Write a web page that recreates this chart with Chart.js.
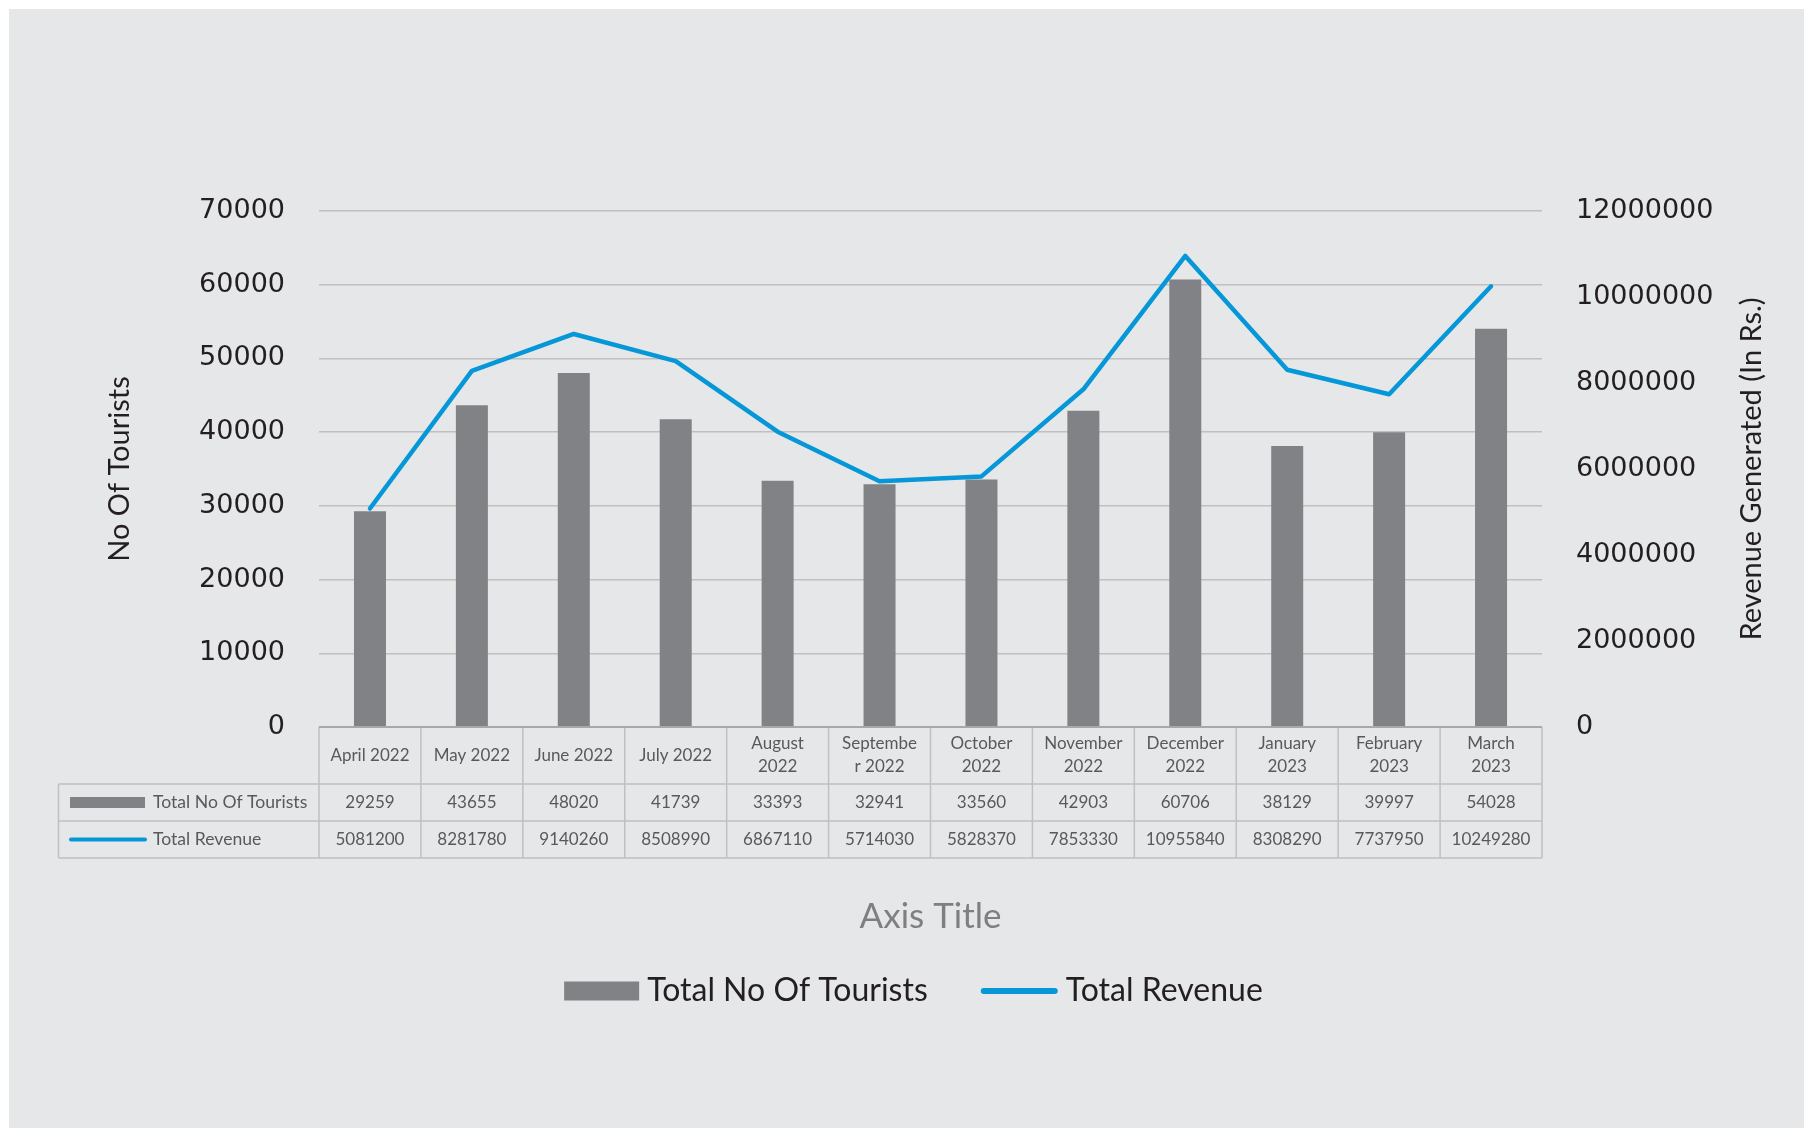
<!DOCTYPE html>
<html>
<head>
<meta charset="utf-8">
<script src="https://cdn.jsdelivr.net/npm/chart.js@4/dist/chart.umd.min.js"></script>
<style>
html,body{margin:0;padding:0;background:#ffffff;}
#wrap{width:1804px;height:1129px;position:relative;}
canvas{display:block;}
</style>
</head>
<body>
<div id="wrap"><canvas id="c" width="1804" height="1129"></canvas></div>
<script>
// ---- data ----
const categories = ["April 2022","May 2022","June 2022","July 2022","August 2022","September 2022","October 2022","November 2022","December 2022","January 2023","February 2023","March 2023"];
const headerLabels = [["April 2022"],["May 2022"],["June 2022"],["July 2022"],["August","2022"],["Septembe","r 2022"],["October","2022"],["November","2022"],["December","2022"],["January","2023"],["February","2023"],["March","2023"]];
const tourists = [29259,43655,48020,41739,33393,32941,33560,42903,60706,38129,39997,54028];
const revenue = [5081200,8281780,9140260,8508990,6867110,5714030,5828370,7853330,10955840,8308290,7737950,10249280];
const seriesNames = ["Total No Of Tourists","Total Revenue"];
const leftTicks = [0,10000,20000,30000,40000,50000,60000,70000];
const rightTicks = [0,2000000,4000000,6000000,8000000,10000000,12000000];
const leftAxisTitle = "No Of Tourists";
const rightAxisTitle = "Revenue Generated (In Rs.)";
const xAxisTitle = "Axis Title";

// ---- style ----
const BAR_COLOR = '#818285';
const LINE_COLOR = '#0597d8';
const TEXT_DARK = '#231f20';
const TABLE_TEXT = '#595959';
const GRID = '#c0c0c0';
const W = 1804, H = 1129;
const PLOT_LEFT = 319, PLOT_RIGHT = 1542, PLOT_TOP = 211, PLOT_BOTTOM = 727;

const decoPlugin = {
  id: 'deco',
  beforeDraw(chart) {
    const ctx = chart.ctx;
    ctx.save();
    ctx.fillStyle = '#ffffff';
    ctx.fillRect(0, 0, W, H);
    ctx.fillStyle = '#e6e7e9';
    ctx.fillRect(9, 9, W - 9, 1119);
    ctx.restore();
  },
  afterDraw(chart) {
    const ctx = chart.ctx;
    const area = chart.chartArea;
    const xs = chart.scales.x;
    const n = categories.length;
    const colW = (area.right - area.left) / n;
    const top = area.bottom;
    const r1 = top + 57, r2 = r1 + 37, r3 = r2 + 37;
    const tLeft = 58.5;
    ctx.save();
    // table grid
    ctx.strokeStyle = GRID;
    ctx.lineWidth = 1.5;
    ctx.beginPath();
    [r1, r2, r3].forEach(y => { ctx.moveTo(tLeft, y); ctx.lineTo(area.right, y); });
    ctx.moveTo(tLeft, r1); ctx.lineTo(tLeft, r3);
    for (let i = 0; i <= n; i++) {
      const x = area.left + i * colW;
      ctx.moveTo(x, top); ctx.lineTo(x, r3);
    }
    ctx.stroke();
    // axis line
    ctx.strokeStyle = '#a8a8a8';
    ctx.lineWidth = 2;
    ctx.beginPath();
    ctx.moveTo(area.left, top); ctx.lineTo(area.right, top);
    ctx.stroke();

    // header text
    ctx.fillStyle = TABLE_TEXT;
    ctx.font = '17px Lato';
    ctx.textAlign = 'center';
    ctx.textBaseline = 'middle';
    headerLabels.forEach((lines, i) => {
      const cx = xs.getPixelForValue(i);
      if (lines.length === 1) {
        ctx.fillText(lines[0], cx, (top + r1) / 2);
      } else {
        ctx.fillText(lines[0], cx, (top + r1) / 2 - 11.5);
        ctx.fillText(lines[1], cx, (top + r1) / 2 + 11.5);
      }
      ctx.fillText(String(tourists[i]), cx, (r1 + r2) / 2);
      ctx.fillText(String(revenue[i]), cx, (r2 + r3) / 2);
    });
    // row keys
    ctx.fillStyle = BAR_COLOR;
    ctx.fillRect(70, (r1 + r2) / 2 - 5.5, 75, 11);
    ctx.strokeStyle = LINE_COLOR;
    ctx.lineWidth = 4;
    ctx.lineCap = 'round';
    ctx.beginPath();
    ctx.moveTo(71, (r2 + r3) / 2); ctx.lineTo(145, (r2 + r3) / 2);
    ctx.stroke();
    ctx.fillStyle = TABLE_TEXT;
    ctx.font = '17.6px Lato';
    ctx.textAlign = 'left';
    ctx.fillText(seriesNames[0], 153, (r1 + r2) / 2);
    ctx.fillText(seriesNames[1], 153, (r2 + r3) / 2);

    // right axis title
    ctx.save();
    ctx.translate(1752, (area.top + area.bottom) / 2);
    ctx.rotate(-Math.PI / 2);
    ctx.fillStyle = TEXT_DARK;
    ctx.font = '29px Lato';
    ctx.textAlign = 'center';
    ctx.textBaseline = 'middle';
    ctx.fillText(rightAxisTitle, 0, 0);
    ctx.restore();

    // legend
    ctx.font = '32px Lato';
    ctx.textBaseline = 'middle';
    ctx.textAlign = 'left';
    const w1 = ctx.measureText(seriesNames[0]).width;
    const w2 = ctx.measureText(seriesNames[1]).width;
    const total = 75 + 8 + w1 + 53 + 77 + 8 + w2;
    let x = 913.5 - total / 2;
    const ly = 991;
    ctx.fillStyle = BAR_COLOR;
    ctx.fillRect(x, ly - 9.5, 75, 19);
    x += 83;
    ctx.fillStyle = TEXT_DARK;
    ctx.fillText(seriesNames[0], x, ly);
    x += w1 + 53;
    ctx.strokeStyle = LINE_COLOR;
    ctx.lineWidth = 6;
    ctx.lineCap = 'round';
    ctx.beginPath();
    ctx.moveTo(x + 3, ly); ctx.lineTo(x + 74, ly);
    ctx.stroke();
    x += 85;
    ctx.fillText(seriesNames[1], x, ly);
    ctx.restore();
  }
};

new Chart(document.getElementById('c'), {
  data: {
    labels: categories,
    datasets: [
      {
        type: 'line',
        label: seriesNames[1],
        data: revenue,
        yAxisID: 'y1',
        borderColor: LINE_COLOR,
        backgroundColor: LINE_COLOR,
        borderWidth: 4.5,
        pointRadius: 0,
        tension: 0,
        borderCapStyle: 'round',
        borderJoinStyle: 'round',
        order: 0
      },
      {
        type: 'bar',
        label: seriesNames[0],
        data: tourists,
        yAxisID: 'y',
        backgroundColor: BAR_COLOR,
        barPercentage: 0.314,
        categoryPercentage: 1,
        order: 1
      }
    ]
  },
  options: {
    responsive: false,
    animation: false,
    devicePixelRatio: 1,
    layout: { padding: { top: PLOT_TOP, left: 0, right: 0, bottom: 0 } },
    plugins: { legend: { display: false }, tooltip: { enabled: false } },
    scales: {
      x: {
        type: 'category',
        offset: true,
        grid: { display: false, drawTicks: false },
        border: { display: false },
        ticks: { display: false },
        title: { display: true, text: xAxisTitle, color: '#7f7f7f', font: { family: 'Lato', size: 35 }, padding: { top: 0, bottom: 191 } },
        afterFit: s => { s.height = H - PLOT_BOTTOM; }
      },
      y: {
        position: 'left',
        min: leftTicks[0],
        max: leftTicks[leftTicks.length - 1],
        afterBuildTicks: s => { s.ticks = leftTicks.map(v => ({ value: v })); },
        ticks: { padding: 34, color: TEXT_DARK, font: { family: 'DejaVu Sans', size: 27 }, callback: v => String(v) },
        grid: { color: GRID, lineWidth: 1.5, drawTicks: false },
        border: { display: false },
        title: { display: true, text: leftAxisTitle, color: TEXT_DARK, font: { family: 'Lato', size: 29 }, padding: { top: 102, bottom: 0 } },
        afterFit: s => { s.width = PLOT_LEFT; }
      },
      y1: {
        position: 'right',
        min: rightTicks[0],
        max: rightTicks[rightTicks.length - 1],
        afterBuildTicks: s => { s.ticks = rightTicks.map(v => ({ value: v })); },
        ticks: { padding: 34, color: TEXT_DARK, font: { family: 'DejaVu Sans', size: 27 }, callback: v => String(v) },
        grid: { display: false, drawTicks: false },
        border: { display: false },
        afterFit: s => { s.width = W - PLOT_RIGHT; }
      }
    }
  },
  plugins: [decoPlugin]
});
</script>
</body>
</html>
